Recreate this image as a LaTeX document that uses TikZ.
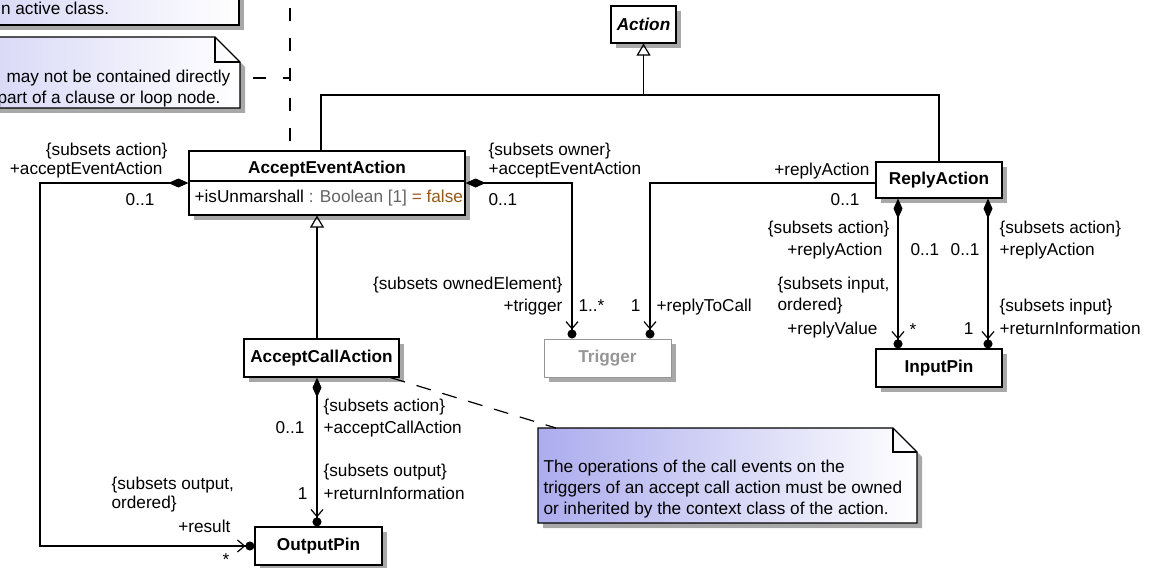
\documentclass[tikz,border=0pt]{standalone}
\usepackage{fontspec}
\setmainfont{Liberation Sans}
\usetikzlibrary{arrows.meta,shadows}
\newcommand\lbf{\fontsize{17.2}{20}\selectfont}
\definecolor{notec}{RGB}{172,172,238}
\definecolor{shad}{RGB}{168,168,168}
\definecolor{attgray}{RGB}{100,100,100}
\definecolor{attbrown}{RGB}{150,90,25}
\definecolor{trig}{RGB}{150,150,150}
\begin{document}
\begin{tikzpicture}[x=1pt,y=-1pt,
  line width=1.2pt,
  lb/.style={inner sep=0pt,font=\lbf},
  cls/.style={draw,fill=white,inner sep=0pt,font=\lbf\bfseries,
     drop shadow={shadow xshift=5pt,shadow yshift=-5pt,fill=shad,opacity=1}},
  assoc/.style={-{Straight Barb[length=7pt,width=12pt]Circle[length=9pt]}},
  comp/.style={{Diamond[length=20pt,width=9pt]}-{Straight Barb[length=7pt,width=12pt]Circle[length=9pt]}},
  gen/.style={-{Triangle[open,length=12pt,width=14pt]}},
  anch/.style={dash pattern=on 13pt off 17pt,dash phase=17pt},
]
\useasboundingbox (0,0) rectangle (1155,567);
\clip (0,0) rectangle (1155,567);

% ---------- notes ----------
\fill[shad] (-295,-5) rectangle (244,30);
\shadedraw[left color=notec,right color=white] (-300,-10) rectangle (239,25);
\node[lb,anchor=base west] (n1t) at (0.5,15) {n active class.};

\fill[shad] (-295,113) -- (-295,42) -- (220,42) -- (245,67) -- (245,113) -- cycle;
\shadedraw[left color=notec,right color=white] (-300,108) -- (-300,37) -- (215,37) -- (240,62) -- (240,108) -- cycle;
\draw (215,37) -- (215,62) -- (240,62);
\node[lb,anchor=base west] (n2t1) at (6,83) {may not be contained directly};
\node[lb,anchor=base west] (n2t2) at (-3,104) {part of a clause or loop node.};

\fill[shad] (543,528) -- (543,433) -- (898,433) -- (922,457) -- (922,528) -- cycle;
\shadedraw[left color=notec,right color=white] (538,523) -- (538,428) -- (893,428) -- (917,452) -- (917,523) -- cycle;
\draw (893,428) -- (893,452) -- (917,452);
\node[lb,anchor=base west] (n3t1) at (543,472) {The operations of the call events on the};
\node[lb,anchor=base west] (n3t2) at (543,493) {triggers of an accept call action must be owned};
\node[lb,anchor=base west] (n3t3) at (543,514) {or inherited by the context class of the action.};

% ---------- classes ----------
\node[cls,minimum width=65pt,minimum height=37pt,font=\lbf\bfseries\itshape] (act) at (643.5,24.5) {Action};
\node[cls,minimum width=276pt,minimum height=64pt] (aea) at (327,183) {};
\draw (aea.west |- 0,181) -- (aea.east |- 0,181);
\node[lb,font=\lbf\bfseries,anchor=base] (aean) at (327,173) {AcceptEventAction};
\node[lb,anchor=base west] (aeaa) at (194,202) {+isUnmarshall\textcolor{attgray}{\ : Boolean [1] }\textcolor{attbrown}{= false}};
\node[cls,minimum width=126pt,minimum height=36pt] (ra) at (939,180) {ReplyAction};
\node[cls,minimum width=126pt,minimum height=38pt] (ip) at (939,368) {InputPin};
\node[cls,draw=trig,text=trig,line width=1pt,minimum width=127pt,minimum height=38pt] (trg) at (607.5,358) {Trigger};
\node[cls,minimum width=155pt,minimum height=38pt] (aca) at (321.5,358) {AcceptCallAction};
\node[cls,minimum width=127pt,minimum height=38pt] (op) at (318.5,546) {OutputPin};

% ---------- note anchors ----------
\coordinate (vt) at (290,-5);
\coordinate (vk) at (290,78);
\coordinate (n2a) at (240,78);
\coordinate (n3a) at (556,428);
\draw[anch] (vt) -- (vt |- aea.north);
\draw[anch] (n2a) -- (vk);
\draw[dash pattern=on 15pt off 12pt] ([xshift=-9pt]aca.south east) -- (n3a);

% ---------- generalizations ----------
\coordinate (j) at (643.5,95);
\draw[gen] ([xshift=-6pt]aea.north) |- (j) -- (act.south);
\draw (ra.north) |- (j);
\draw[gen] ([xshift=-4.5pt]aca.north) -- ([xshift=-10pt]aea.south);

% ---------- associations ----------
\coordinate (lc) at (40,546);
\draw[comp] (aea.west) -| (lc) -- (op.west);
\draw[comp] (aea.east) -| ([xshift=-35.5pt]trg.north);
\draw[assoc] ([yshift=-3pt]ra.west) -| ([xshift=42.5pt]trg.north);
\draw[comp] ([xshift=-41pt]ra.south) -- ([xshift=-41pt]ip.north);
\draw[comp] ([xshift=49pt]ra.south) -- ([xshift=49pt]ip.north);
\draw[comp] ([xshift=-4.5pt]aca.south) -- ([xshift=-1.5pt]op.north);

% ---------- labels ----------
\node[lb,anchor=base east] (l1) at (168,155) {\{subsets action\}};
\node[lb,anchor=base east] (l2) at (163,174) {+acceptEventAction};
\node[lb,anchor=base east] (l3) at (155,205) {0..1};
\node[lb,anchor=base west] (l4) at (111,489) {\{subsets output,};
\node[lb,anchor=base west] (l5) at (111,508) {ordered\}};
\node[lb,anchor=base east] (l6) at (231,532) {+result};
\node[lb,anchor=base west] (l7) at (222,565) {*};

\node[lb,anchor=base west] (l8) at (488,155) {\{subsets owner\}};
\node[lb,anchor=base west] (l9) at (488,174) {+acceptEventAction};
\node[lb,anchor=base west] (l10) at (488,205) {0..1};
\node[lb,anchor=base east] (l11) at (563,289) {\{subsets ownedElement\}};
\node[lb,anchor=base east] (l12) at (563,311) {+trigger};
\node[lb,anchor=base west] (l13) at (578,311) {1..*};

\node[lb,anchor=base east] (l14) at (870,175) {+replyAction};
\node[lb,anchor=base east] (l15) at (860,205) {0..1};
\node[lb,anchor=base east] (l16) at (641,311) {1};
\node[lb,anchor=base west] (l17) at (656,311) {+replyToCall};

\node[lb,anchor=base east] (l18) at (890,233) {\{subsets action\}};
\node[lb,anchor=base east] (l19) at (883,255) {+replyAction};
\node[lb,anchor=base west] (l20) at (910,255) {0..1};
\node[lb,anchor=base west] (l21) at (777,289) {\{subsets input,};
\node[lb,anchor=base west] (l22) at (777,310) {ordered\}};
\node[lb,anchor=base east] (l23) at (878,334) {+replyValue};
\node[lb,anchor=base west] (l24) at (909,335) {*};

\node[lb,anchor=base east] (l25) at (980,255) {0..1};
\node[lb,anchor=base west] (l26) at (999,233) {\{subsets action\}};
\node[lb,anchor=base west] (l27) at (999,255) {+replyAction};
\node[lb,anchor=base west] (l28) at (999,311) {\{subsets input\}};
\node[lb,anchor=base west] (l29) at (999,334) {+returnInformation};
\node[lb,anchor=base east] (l30) at (974,334) {1};

\node[lb,anchor=base west] (l31) at (323,411) {\{subsets action\}};
\node[lb,anchor=base west] (l32) at (323,433) {+acceptCallAction};
\node[lb,anchor=base east] (l33) at (305,433) {0..1};
\node[lb,anchor=base west] (l34) at (323,476) {\{subsets output\}};
\node[lb,anchor=base west] (l35) at (323,499) {+returnInformation};
\node[lb,anchor=base east] (l36) at (308,499) {1};
\end{tikzpicture}
\end{document}
